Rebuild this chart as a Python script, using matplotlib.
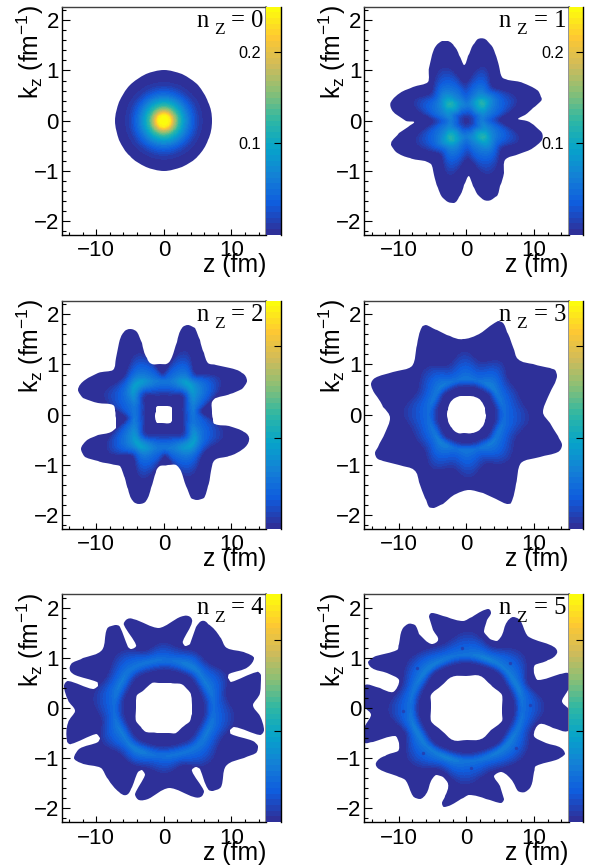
import numpy as np
import matplotlib
matplotlib.use("Agg")
import matplotlib.pyplot as plt
from matplotlib.colors import LinearSegmentedColormap, BoundaryNorm
from matplotlib.path import Path
from matplotlib.ticker import MultipleLocator, FixedLocator

plt.rcParams['font.family'] = ['Liberation Sans', 'DejaVu Sans']
plt.rcParams['mathtext.fontset'] = 'custom'
plt.rcParams['mathtext.rm'] = 'Liberation Sans'
plt.rcParams['mathtext.default'] = 'regular'

W, H = 601, 867
# ---------- data ----------
# outlines: half of each contour (z [fm], k [1/fm]); the Wigner map is point-symmetric
outer0 = [(7.15,0),(6.6,.38),(5.05,.71),(2.7,.92),(0,1.0),(-2.7,.92),(-5.05,.71),(-6.6,.38)]
outer1 = [(7.68,.03),(8.67,.12),(9.9,.25),(11,.40),(11.08,.48),(10.4,.62),(8.4,.75),(6.2,.81),(5.2,.87),(4.83,1.08),
          (4.24,1.34),(3.6,1.51),(2.76,1.62),(1.77,1.63),(1.03,1.51),(.3,1.28),(-.34,1.11),(-1.03,1.31),(-1.77,1.48),
          (-2.66,1.58),(-3.65,1.58),(-4.48,1.49),(-5.02,1.31),(-5.5,1.05),(-5.7,.78),(-7.83,.67),(-9.8,.55),(-11.2,.38),
          (-11.2,.25),(-10.3,.12),(-8.9,.0)]
outer2 = [(7.14,.06),(7.14,.26),(7.78,.34),(9.75,.41),(11.48,.52),(12.3,.68),(11.6,.84),(9.75,.93),(7.78,.99),(6.55,1.03),
          (5.9,1.22),(5.32,1.48),(4.58,1.72),(3.6,1.78),(2.61,1.72),(1.87,1.45),(1.23,1.15),(.64,1.02),(-.59,1.01),(-1.82,1.01),
          (-2.56,1.12),(-3.3,1.42),(-4.04,1.65),(-4.93,1.70),(-5.91,1.65),(-6.6,1.42),(-7.04,1.12),(-7.49,.9),(-9.7,.83),
          (-11.67,.69),(-12.66,.50),(-11.9,.34),(-9.7,.23),(-7.49,.19),(-7.2,.08)]
outer3 = [(11.28,.06),(12.1,.36),(13.1,.64),(13.45,.77),(13.1,.89),(12.4,.92),(9.9,1.01),(7.68,1.10),(6.95,1.35),(6.06,1.65),
          (5.47,1.83),(4.73,1.86),(3.5,1.77),(1.53,1.58),(-.44,1.50),(-2.4,1.56),(-4.4,1.68),(-5.96,1.78),(-6.6,1.75),(-7.34,1.38),
          (-8.08,.97),(-10.8,.85),(-13.5,.74),(-14.1,.61),(-13.5,.42),(-12.3,.16)]
outer4 = [(13.2,.05),(14.2,.29),(14.3,.66),(13.7,.72),(10.0,.52),(9.5,.60),(9.7,.67),(12.5,.81),(13.3,.99),
          (12.2,1.10),(9.3,1.19),(8.3,1.42),(6.6,1.68),(5.6,1.74),(4.8,1.62),(3.8,1.28),(3.2,1.24),(2.8,1.33),
          (4.2,1.72),(3.6,1.84),(2.4,1.81),(-.7,1.60),(-4.5,1.78),(-5.6,1.76),(-5.9,1.65),(-4.1,1.25),(-4.8,1.17),
          (-5.3,1.22),(-6.5,1.62),(-7.2,1.65),(-8.4,1.58),(-9.2,1.15),(-11.9,.99),(-13.6,.89),(-13.9,.75),(-13.2,.66),
          (-9.9,.52),(-9.8,.44),(-10.4,.38),(-14.2,.54),(-14.8,.44),(-14.2,.16)]
outer5 = [(14.1,.13),(14.8,.32),(15.6,.46),(15,.69),(13.8,.67),(10.6,.56),(10,.69),(10.1,.85),(12.1,.95),(13.4,1.09),
          (12.9,1.22),(9.9,1.38),(8.9,1.45),(7.9,1.75),(6.9,1.81),(5.96,1.72),(5.2,1.45),(4.5,1.34),(3.5,1.38),(2.66,1.52),
          (3.1,1.75),(3.6,1.9),(3.25,1.97),(2.27,1.93),(.8,1.81),(-.44,1.74),(-2.9,1.81),(-5.1,1.90),(-5.5,1.81),(-4.9,1.55),
          (-4.14,1.35),(-5.1,1.28),(-6.1,1.35),(-6.95,1.48),(-7.6,1.65),(-8.6,1.68),(-9.56,1.55),(-10,1.28),(-10.3,1.15),
          (-13.3,1.03),(-14.5,.92),(-14,.79),(-11.7,.69),(-10,.56),(-10.8,.32),(-12.8,.39),(-15,.46),(-15.8,.2),(-15,.0)]
hole2 = [(1.25,.02),(1.22,.12),(1.05,.16),(.3,.17),(-.9,.17),(-1.15,.13),(-1.22,.05)]
hole3 = [(2.82,.0),(2.7,.13),(2.2,.27),(1.3,.36),(.3,.37),(-.8,.37),(-1.7,.33),(-2.4,.23),(-2.78,.1)]
hole4 = [(4.1,.0),(4.05,.25),(3.4,.38),(2.6,.47),(1.0,.49),(-.7,.49),(-1.8,.49),(-3.0,.36),(-3.9,.26),(-4.1,.12)]
hole5 = [(5.2,.0),(5.2,.26),(3.6,.45),(2.0,.64),(-.1,.64),(-2.2,.62),(-3.7,.44),(-5.2,.26),(-5.25,.1)]
outers = [outer0, outer1, outer2, outer3, outer4, outer5]
holes = [None, None, hole2, hole3, hole4, hole5]

# n=0 radial profile (scaled radius, density)
rho0 = [0, .13, .2, .3, .4, .5, .6, .7, .8, 1.2]
val0 = [.262, .235, .18, .125, .085, .055, .03, .012, .004, .002]

# n>0: ring description at polar angles 0,15,...,165 deg (scaled radius; density)
r_in = {1: [.01]*12,
        2: [.33,.34,.4,.47,.4,.34,.33,.34,.4,.47,.4,.34],
        3: [.54,.54,.54,.56,.54,.54,.53,.54,.54,.56,.54,.54],
        4: [.76,.75,.74,.76,.74,.72,.72,.72,.74,.76,.74,.76],
        5: [.92,.90,.88,.90,.88,.86,.86,.86,.88,.90,.88,.90]}
r_top = {1: [.33,.36,.42,.48,.46,.38,.33,.36,.42,.48,.46,.38],
         2: [.6,.62,.7,.78,.78,.7,.67,.7,.78,.82,.72,.62],
         3: [.76,.75,.74,.76,.74,.72,.72,.72,.74,.76,.74,.75],
         4: [1.0,1.0,.98,1.0,1.0,.97,.96,.97,1.0,1.02,1.0,1.0],
         5: [1.12,1.12,1.1,1.1,1.08,1.07,1.07,1.07,1.08,1.1,1.1,1.12]}
peak = {1: [.06,.065,.085,.115,.10,.07,.06,.07,.09,.115,.09,.07],
        2: [.055,.06,.075,.09,.085,.06,.055,.06,.08,.09,.075,.055],
        3: [.045,.05,.055,.062,.058,.05,.055,.05,.055,.058,.055,.05],
        4: [.045,.052,.058,.058,.062,.053,.05,.053,.053,.055,.058,.053],
        5: [.05,.058,.062,.058,.062,.062,.053,.053,.058,.062,.058,.053]}
r_out = {1: [.68,1.0,1.08,.9,.95,1.14,.78,1.05,1.15,.95,1.0,1.09],
         2: [.82,.95,1.34,1.15,1.15,1.32,.85,1.2,1.3,1.12,1.2,1.25],
         3: [1.28,1.15,1.12,1.15,1.28,1.12,1.28,1.12,1.15,1.25,1.12,1.18],
         4: [1.38,1.3,1.42,1.28,1.3,1.25,1.32,1.22,1.36,1.42,1.32,1.42],
         5: [1.58,1.4,1.4,1.58,1.4,1.4,1.55,1.4,1.4,1.5,1.45,1.4]}
# small dips in the n=5 ring
dips_z = [-.7, 6.45, 9.4, -7.3, .7, -6.45, -9.4, 7.3]
dips_k = [1.19, .89, .06, .79, -1.19, -.89, -.06, -.79]

panel_names = ['0', '1', '2', '3', '4', '5']
cb_ticks = [0.1, 0.2]
cb_range = (0.0, 0.25)
bird_stops = [(.18,.19,.60),(.0592,.3599,.8684),(.0780,.5041,.8385),(.0232,.6419,.7914),(.1802,.7178,.6425),
              (.5301,.7492,.4662),(.8186,.7328,.3499),(.9956,.7862,.1968),(.99,.99,.05)]

# ---------- style ----------
N_BANDS = 40
cmap = LinearSegmentedColormap.from_list('bird', bird_stops, N=N_BANDS)
levels = np.linspace(cb_range[0], cb_range[1], N_BANDS + 1)
norm = BoundaryNorm(levels, N_BANDS)
A = 7.44  # fm per scaled unit (isotropic on screen)
FLOOR = .003
lefts = [61.7, 364.3]
tops = [6.7, 300.7, 594.0]
AW, AH, BW = 204.3, 228.0, 14.5


def smooth_closed(pts):
    """closed smooth path through pts, as Bezier segments"""
    p = np.asarray(pts, float)
    q = p * [1, A]
    n = len(p)
    verts, codes = [p[0]], [Path.MOVETO]
    d = np.linalg.norm(np.roll(q, -1, 0) - q, axis=1)
    tang = [(p[(i+1) % n] - p[i-1]) / (d[i] + d[i-1]) for i in range(n)]
    for i in range(n):
        j = (i + 1) % n
        verts += [p[i] + tang[i]*d[i]/3, p[j] - tang[j]*d[i]/3, p[j]]
        codes += [Path.CURVE4]*3
    return verts, codes


def full(half):
    h = np.asarray(half, float)
    return np.vstack([h, -h])


def outline(i):
    v, c = smooth_closed(full(outers[i]))
    if holes[i] is not None:
        v2, c2 = smooth_closed(full(holes[i])[::-1])
        v, c = v + v2, c + c2
    return Path(np.array(v), c)


def periodic(a, theta):
    a = np.asarray(a, float)
    c = np.fft.rfft(a)
    c[-1] *= .5
    m = 720
    fine = np.fft.irfft(np.concatenate([c, np.zeros(m//2 + 1 - len(c))]), m) * m / len(a)
    t = np.linspace(0, np.pi, m, endpoint=False)
    return np.interp(theta, np.r_[t, np.pi], np.r_[fine, fine[0]])


def field(i, Z, K):
    x, y = Z / A, K
    rho = np.hypot(x, y)
    if i == 0:
        return np.interp(rho, rho0, val0)
    th = np.mod(np.arctan2(y, x), np.pi)
    a, b, p, c = (periodic(d[i], th) for d in (r_in, r_top, peak, r_out))
    t1 = np.clip((rho - a) / (b - a), 0, 1)
    t2 = np.clip((rho - b) / (c - b), 0, 1)
    up = t1*t1*(3 - 2*t1)
    down = (1 - t2)**1.0
    return FLOOR + (p - FLOOR) * np.where(rho < b, up, down)


fig = plt.figure(figsize=(W/100, H/100), dpi=100)
zg = np.linspace(-15.1, 15.1, 700)
kg = np.linspace(-2.27, 2.27, 700)
Zg, Kg = np.meshgrid(zg, kg)

for i, name in enumerate(panel_names):
    L = lefts[i % 2]
    T = tops[i // 2]
    ax = fig.add_axes([L/W, 1 - (T + AH)/H, AW/W, AH/H])
    ax.set_xlim(-15.1, 15.1)
    ax.set_ylim(-2.27, 2.27)
    m = ax.pcolormesh(Zg, Kg, field(i, Zg, Kg), cmap=cmap, norm=norm, shading='auto')
    m.set_clip_path(outline(i), transform=ax.transData)
    if i == 5:
        ax.scatter(dips_z, dips_k, s=6, color=cmap(norm(.018)), linewidths=0, zorder=3)
    ax.xaxis.set_major_locator(MultipleLocator(10))
    ax.xaxis.set_minor_locator(MultipleLocator(2))
    ax.yaxis.set_major_locator(MultipleLocator(1))
    ax.yaxis.set_minor_locator(MultipleLocator(.2))
    ax.tick_params(which='major', axis='x', direction='in', length=4.2, width=.8, labelsize=16, pad=4)
    ax.tick_params(which='minor', axis='x', direction='in', length=2.2, width=.8)
    ax.tick_params(which='major', axis='y', direction='in', length=5.6, width=.8, labelsize=16, pad=2)
    ax.tick_params(which='minor', axis='y', direction='in', length=2.8, width=.8)
    for s in ('left', 'bottom', 'top'):
        ax.spines[s].set_linewidth(1.0)
    ax.spines['top'].set_color('#404040')
    ax.spines['right'].set_color('#808080')
    ax.spines['right'].set_linewidth(1.2)

    R = L + AW
    B = T + AH
    fx = lambda px: px / W
    fy = lambda py: 1 - py / H
    fig.text(fx(R), fy(B + 37.7), 'z (fm)', ha='right', va='baseline', fontsize=17.8)
    fig.text(fx(L - 31.7), fy(T - 1.5), r'k$_{z}$ (fm$^{-1}$)', rotation=90, ha='center', va='top', fontsize=17.8)
    serif = ['Liberation Serif', 'DejaVu Serif']
    fig.text(fx(R - 70), fy(T + 20), 'n', family=serif, fontsize=17.7, va='baseline', zorder=10)
    fig.text(fx(R - 52), fy(T + 27.7), 'Z', family=serif, fontsize=12.5, va='baseline', zorder=10)
    fig.text(fx(R - 35), fy(T + 20), '= ' + name, family=serif, fontsize=17.7, va='baseline', zorder=10)

    cax = fig.add_axes([R/W, 1 - B/H, BW/W, AH/H])
    yy = np.linspace(*cb_range, 401)
    cax.pcolormesh([0, 1], yy, np.c_[(yy[:-1] + yy[1:]) / 2], cmap=cmap, norm=norm)
    cax.set_xticks([])
    cax.set_ylim(*cb_range)
    cax.yaxis.set_major_locator(FixedLocator(cb_ticks))
    cax.tick_params(axis='y', left=False, right=True, direction='in', length=5.2, width=.8,
                    labelleft=i < 2, labelright=False, labelsize=11.7, pad=3.5)
    if i < 2:
        cax.set_yticklabels(['0.1', '0.2'])
    for s in ('left', 'top', 'bottom'):
        cax.spines[s].set_visible(False)
    cax.spines['right'].set_linewidth(1.0)
    cax.patch.set_alpha(0)

fig.savefig('out.png', dpi=100)
